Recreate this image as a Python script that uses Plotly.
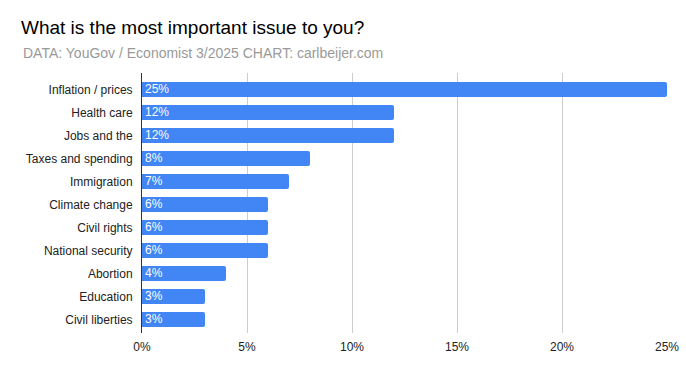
import plotly.graph_objects as go

categories = ["Inflation / prices", "Health care", "Jobs and the", "Taxes and spending",
              "Immigration", "Climate change", "Civil rights", "National security",
              "Abortion", "Education", "Civil liberties"]
values = [25, 12, 12, 8, 7, 6, 6, 6, 4, 3, 3]
x_ticks = [0, 5, 10, 15, 20, 25]
x_tick_labels = ["0%", "5%", "10%", "15%", "20%", "25%"]

W, H = 686, 371
L, R, T, B = 142, 19, 73, 38
ph = H - T - B

fig = go.Figure(go.Bar(
    x=values, y=categories, orientation="h",
    marker=dict(color="#4285F4", line=dict(width=0)),
    text=[f"{v}%" for v in values],
    textposition="inside", insidetextanchor="start",
    textfont=dict(family="Liberation Sans, Arial", size=12, color="white"),
    hoverinfo="skip", cliponaxis=False,
))

fig.update_layout(
    width=W, height=H,
    margin=dict(l=L, r=R, t=T, b=B, pad=0, autoexpand=False),
    paper_bgcolor="white", plot_bgcolor="white",
    bargap=0.35, barcornerradius=2,
    uniformtext=dict(minsize=12, mode="show"),
    showlegend=False,
    font=dict(family="Liberation Sans, Arial", size=12, color="#222222"),
    xaxis=dict(range=[0, 25], tickvals=x_ticks, ticktext=x_tick_labels,
               showgrid=True, gridcolor="#cccccc", gridwidth=1,
               zeroline=False, showline=False, ticks="", ticklabelstandoff=5,
               tickfont=dict(size=12, color="#222222"), fixedrange=True, automargin=False),
    yaxis=dict(categoryorder="array", categoryarray=categories,
               range=[10.587, -0.717], showgrid=False, zeroline=False,
               showline=True, linecolor="#333333", linewidth=1,
               ticks="", ticklabelstandoff=6, automargin=False,
               tickfont=dict(size=12, color="#222222"), fixedrange=True),
    annotations=[
        dict(text="What is the most important issue to you?", xref="paper", yref="paper",
             x=(19 - L) / (W - L - R), y=(H - B - 28) / ph, xanchor="left", yanchor="middle",
             showarrow=False, font=dict(family="Liberation Sans, Arial", size=19, color="#000000")),
        dict(text="DATA: YouGov / Economist 3/2025 CHART: carlbeijer.com", xref="paper", yref="paper",
             x=(21 - L) / (W - L - R), y=(H - B - 53) / ph, xanchor="left", yanchor="middle",
             showarrow=False, font=dict(family="Liberation Sans, Arial", size=14, color="#999999")),
    ],
)

fig.write_html("out.html", config={"displayModeBar": False},
               post_script="document.body.style.margin='0';")
